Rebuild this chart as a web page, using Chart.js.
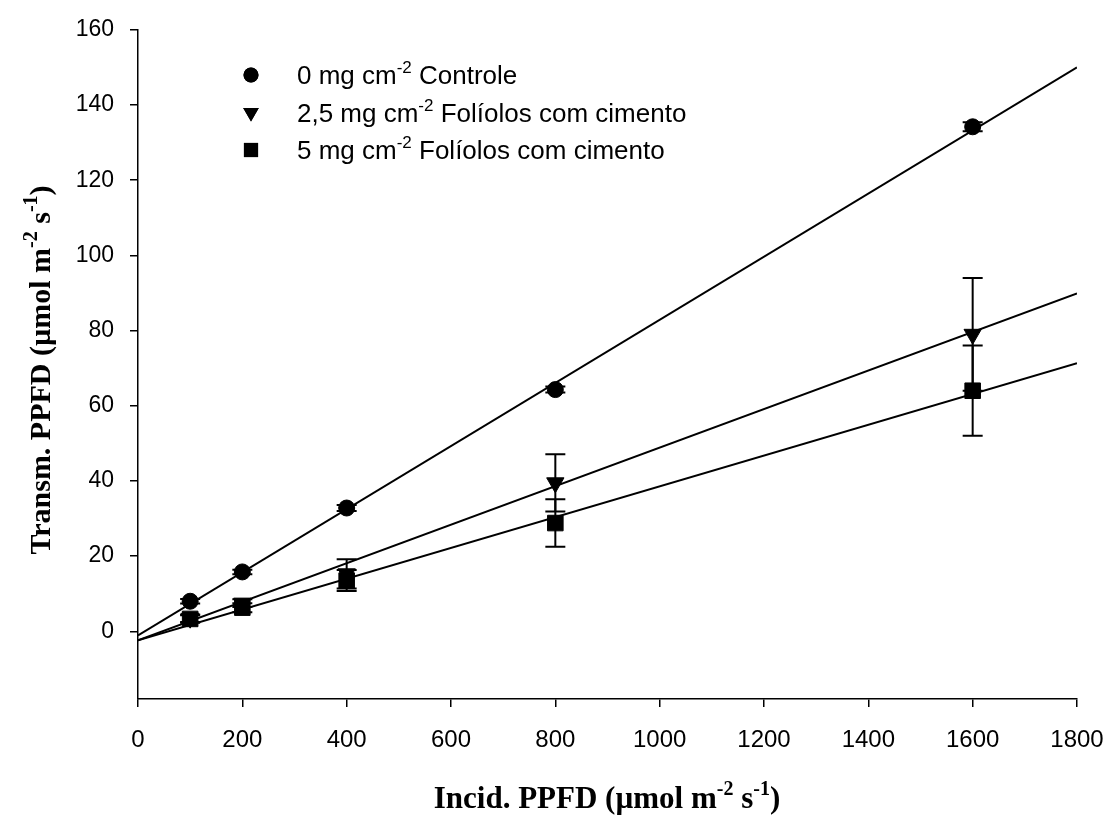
<!DOCTYPE html>
<html>
<head>
<meta charset="utf-8">
<script src="https://cdn.jsdelivr.net/npm/chart.js@4.4.0/dist/chart.umd.min.js"></script>
<style>
    html, body { margin: 0; padding: 0; background: #fff; }
    #wrap { width: 1112px; height: 816px; }
</style>
</head>
<body>
<div id="wrap"><canvas id="chart" width="1112" height="816"></canvas></div>
<script>
    // values
    const incidPPFD = [100, 200, 400, 800, 1600];
    const controle = [8.0, 15.8, 32.8, 64.3, 134.2];
    const controleErr = [0.6, 0.6, 0.8, 0.8, 1.2];
    const cimento25 = [3.5, 7.5, 15.3, 39.5, 79.0];
    const cimento25Err = [1.0, 1.0, 3.9, 7.6, 15.0];
    const cimento5 = [3.3, 6.3, 13.5, 28.8, 64.0];
    const cimento5Err = [1.0, 1.2, 2.8, 6.3, 12.0];

    // regression lines, ends read at x = 0 and x = 1800
    const fitX = [0, 1800];
    const fitControle = [-1.1, 150.0];
    const fitCimento25 = [-2.4, 89.9];
    const fitCimento5 = [-2.4, 71.3];

    const xTicks = [0, 200, 400, 600, 800, 1000, 1200, 1400, 1600, 1800];
    const yTicks = [0, 20, 40, 60, 80, 100, 120, 140, 160];

    const legendItems = [
        { style: 'circle', radius: 7.5, rotation: 0, parts: [['0 mg cm'], ['-2', 1], [' Controle']] },
        { style: 'triangle', radius: 9, rotation: 180, parts: [['2,5 mg cm'], ['-2', 1], [' Folíolos com cimento']] },
        { style: 'rect', radius: 10, rotation: 0, parts: [['5 mg cm'], ['-2', 1], [' Folíolos com cimento']] }
    ];

    const xTitle = [['Incid. PPFD (µmol m'], ['-2', 1], [' s'], ['-1', 1], [')']];
    const yTitle = [['Transm. PPFD (µmol m'], ['-2', 1], [' s'], ['-1', 1], [')']];

    function pts(xs, ys) {
        return xs.map((x, i) => ({ x, y: ys[i] }));
    }

    function fitSet(ys) {
        return {
            data: pts(fitX, ys),
            showLine: true,
            borderColor: '#000',
            borderWidth: 2,
            pointRadius: 0,
            fill: false
        };
    }

    function markSet(ys, errs, style, radius) {
        return {
            data: pts(incidPPFD, ys),
            errors: errs,
            showLine: false,
            pointStyle: style,
            pointRadius: radius,
            pointRotation: style === 'triangle' ? 180 : 0,
            backgroundColor: '#000',
            borderColor: '#000',
            borderWidth: 1
        };
    }

    function drawRich(ctx, parts, x, y, size, family, weight, align) {
        const baseFont = `${weight} ${size}px ${family}`;
        const supFont = `${weight} ${Math.round(size * 0.66)}px ${family}`;
        let total = 0;
        parts.forEach(p => {
            ctx.font = p[1] ? supFont : baseFont;
            total += ctx.measureText(p[0]).width;
        });
        let cx = align === 'center' ? x - total / 2 : x;
        ctx.textAlign = 'left';
        ctx.textBaseline = 'alphabetic';
        parts.forEach(p => {
            ctx.font = p[1] ? supFont : baseFont;
            ctx.fillText(p[0], cx, p[1] ? y - size * 0.42 : y);
            cx += ctx.measureText(p[0]).width;
        });
    }

    const errorBars = {
        id: 'errorBars',
        beforeDatasetsDraw(chart) {
            const ctx = chart.ctx;
            const xs = chart.scales.x, ys = chart.scales.y;
            ctx.save();
            ctx.strokeStyle = '#000';
            ctx.lineWidth = 2;
            chart.data.datasets.forEach(ds => {
                if (!ds.errors) return;
                ds.data.forEach((p, i) => {
                    const px = xs.getPixelForValue(p.x);
                    const top = ys.getPixelForValue(p.y + ds.errors[i]);
                    const bot = ys.getPixelForValue(p.y - ds.errors[i]);
                    ctx.beginPath();
                    ctx.moveTo(px, top); ctx.lineTo(px, bot);
                    ctx.moveTo(px - 10, top); ctx.lineTo(px + 10, top);
                    ctx.moveTo(px - 10, bot); ctx.lineTo(px + 10, bot);
                    ctx.stroke();
                });
            });
            ctx.restore();
        }
    };

    const labels = {
        id: 'labels',
        afterDraw(chart) {
            const ctx = chart.ctx;
            ctx.save();
            ctx.fillStyle = '#000';

            legendItems.forEach((item, i) => {
                const y = 75 + i * 37.5;
                Chart.helpers.drawPoint(ctx, { pointStyle: item.style, radius: item.radius, rotation: item.rotation, borderWidth: 0 }, 251, y);
                ctx.fill();
                drawRich(ctx, item.parts, 297, y + 9, 26, '"Liberation Sans", Arial, sans-serif', 'normal', 'left');
            });

            drawRich(ctx, xTitle, 607, 808, 31, '"Liberation Serif", "Times New Roman", serif', 'bold', 'center');

            ctx.translate(50, 370);
            ctx.rotate(-Math.PI / 2);
            drawRich(ctx, yTitle, 0, 0, 30, '"Liberation Serif", "Times New Roman", serif', 'bold', 'center');
            ctx.restore();
        }
    };

    new Chart(document.getElementById('chart'), {
        type: 'scatter',
        data: {
            datasets: [
                markSet(controle, controleErr, 'circle', 8),
                markSet(cimento25, cimento25Err, 'triangle', 10),
                markSet(cimento5, cimento5Err, 'rect', 11),
                fitSet(fitControle),
                fitSet(fitCimento25),
                fitSet(fitCimento5)
            ]
        },
        options: {
            responsive: false,
            animation: false,
            layout: { padding: { top: 24, right: 35, left: 0, bottom: 0 } },
            plugins: { legend: { display: false }, tooltip: { enabled: false } },
            scales: {
                x: {
                    type: 'linear',
                    min: 0,
                    max: 1800,
                    afterBuildTicks: s => { s.ticks = xTicks.map(v => ({ value: v })); },
                    afterFit: s => { s.height = 117; s.paddingRight = 0; },
                    grid: { drawOnChartArea: false, drawTicks: true, tickLength: 8, color: '#000', lineWidth: 1.5 },
                    border: { display: true, color: '#000', width: 1.5 },
                    ticks: {
                        color: '#000',
                        font: { family: '"Liberation Sans", Arial, sans-serif', size: 24 },
                        padding: 19,
                        maxRotation: 0,
                        autoSkip: false,
                        callback: v => String(v)
                    }
                },
                y: {
                    min: -18,
                    max: 160,
                    afterBuildTicks: s => { s.ticks = yTicks.map(v => ({ value: v })); },
                    afterFit: s => { s.width = 138; },
                    grid: { drawOnChartArea: false, drawTicks: true, tickLength: 8, color: '#000', lineWidth: 1.5 },
                    border: { display: true, color: '#000', width: 1.5 },
                    ticks: {
                        color: '#000',
                        font: { family: '"Liberation Sans", Arial, sans-serif', size: 23 },
                        padding: 16,
                        autoSkip: false,
                        callback: v => String(v)
                    }
                }
            }
        },
        plugins: [errorBars, labels]
    });
</script>
</body>
</html>
